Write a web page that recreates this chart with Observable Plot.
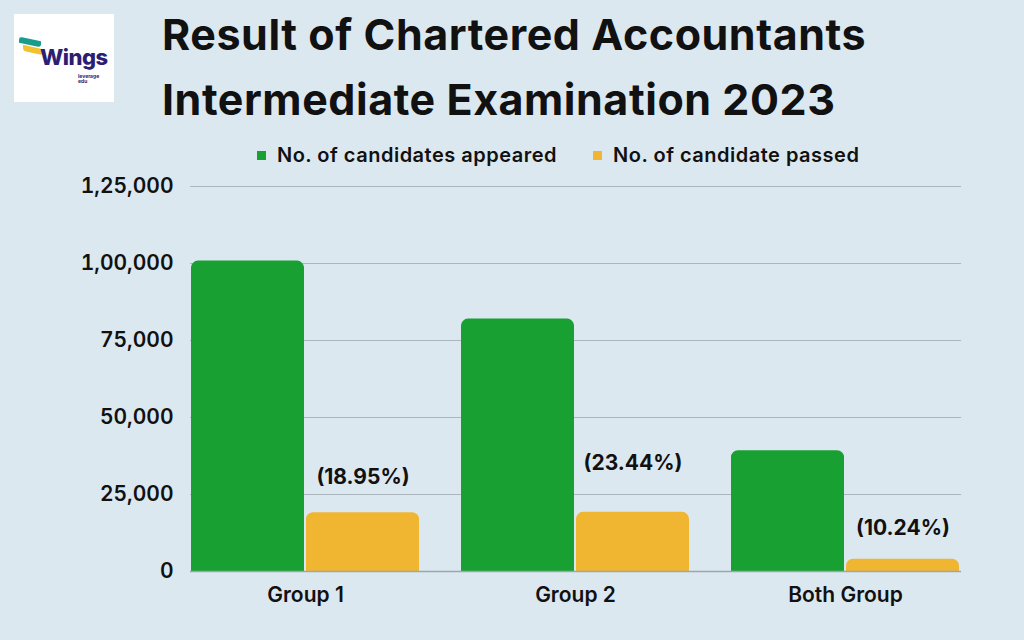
<!DOCTYPE html>
<html>
<head>
<meta charset="utf-8">
<script src="https://cdn.jsdelivr.net/npm/d3@7"></script>
<script src="https://cdn.jsdelivr.net/npm/@observablehq/plot@0.6"></script>
<style>
  html, body { margin: 0; padding: 0; }
  body { width: 1024px; height: 640px; background: #dce8f0; font-family: Inter, Roboto, sans-serif; color: #111; overflow: hidden; position: relative; }
  #header { position: relative; height: 170px; }
  #logo { position: absolute; left: 14px; top: 14px; width: 100px; height: 88px; background: #fff; }
  #logo .sw1 { position: absolute; left: 5px; top: 25px; width: 22px; height: 6px; background: #1a9c8c; border-radius: 3px 0 3px 0; transform: skewY(12deg); }
  #logo .sw2 { position: absolute; left: 9px; top: 33px; width: 20px; height: 6px; background: #f2c12e; border-radius: 0 0 3px 3px; transform: skewY(12deg); }
  #logo .w { position: absolute; left: 26px; top: 30px; font: 800 22px Inter, sans-serif; color: #2d1d73; letter-spacing: -0.5px; }
  #logo .lv { position: absolute; left: 64px; top: 60px; font: 700 5px Inter, sans-serif; color: #2d1d73; line-height: 5px; }
  #title { position: absolute; left: 162px; top: 2px; font-weight: 700; font-size: 43px; line-height: 65px; letter-spacing: 0.55px; color: #111; white-space: nowrap; }
  #legend { position: absolute; left: 257px; top: 143px; display: flex; align-items: center; font-size: 20px; font-weight: 600; letter-spacing: 0.5px; white-space: nowrap; }
  #legend .item { display: flex; align-items: center; margin-right: 36px; }
  #legend .sq { width: 9px; height: 9px; margin-right: 11px; }
</style>
</head>
<body>
<div id="header">
  <div id="logo"><div class="sw1"></div><div class="sw2"></div><div class="w">Wings</div><div class="lv">leverage<br>edu</div></div>
  <div id="title">Result of Chartered Accountants<br>Intermediate Examination 2023</div>
  <div id="legend"></div>
</div>
<div id="chart"></div>
<script>
const groups = ["Group 1", "Group 2", "Both Group"];
const seriesNames = ["No. of candidates appeared", "No. of candidate passed"];
const appeared = [100781, 81956, 39195];
const passed = [19103, 19208, 4014];
const passLabels = ["(18.95%)", "(23.44%)", "(10.24%)"];
const yTicks = [0, 25000, 50000, 75000, 100000, 125000];
const seriesColors = ["#19a032", "#f0b632"];

const rows = [];
groups.forEach((g, i) => {
  rows.push({group: g, series: seriesNames[0], value: appeared[i]});
  rows.push({group: g, series: seriesNames[1], value: passed[i]});
});
const labelRows = groups.map((g, i) => ({group: g, series: seriesNames[1], value: passed[i], label: passLabels[i]}));
const labelDy = [-35, -49, -31];

// legend
const legend = document.getElementById("legend");
seriesNames.forEach((s, i) => {
  const it = document.createElement("div");
  it.className = "item";
  const sq = document.createElement("div");
  sq.className = "sq";
  sq.style.background = seriesColors[i];
  it.appendChild(sq);
  it.appendChild(document.createTextNode(s));
  legend.appendChild(it);
});

const fmt = d => d.toLocaleString("en-IN");
const W = 1024, ML = 189, MR = 64;
const span = W - ML - MR;

const chart = Plot.plot({
  width: W,
  height: 470,
  marginTop: 16,
  marginBottom: 69,
  marginLeft: ML,
  marginRight: MR,
  style: {background: "transparent", fontFamily: "Inter, sans-serif", color: "#111", overflow: "visible"},
  fx: {domain: groups, paddingInner: 0.15, paddingOuter: 0, label: null},
  x: {domain: seriesNames, paddingInner: 0.015, paddingOuter: 0, axis: null},
  y: {domain: [0, 125000], label: null},
  color: {domain: seriesNames, range: seriesColors},
  marks: [
    // full-width grid lines drawn as inward ticks of the left axis
    Plot.axisY(yTicks.slice(1), {tickSize: -span, stroke: "#aab5be", strokeOpacity: 1, strokeWidth: 1, tickFormat: () => "", label: null}),
    Plot.axisY(yTicks, {tickSize: 0, tickPadding: 17, tickFormat: fmt, fontSize: 21, fontWeight: 600, label: null}),
    Plot.axisFx({anchor: "bottom", tickSize: 0, tickPadding: 16, fontSize: 21, fontWeight: 600, label: null}),
    Plot.barY(rows, {fx: "group", x: "series", y: "value", fill: "series", ry1: 7}),
    Plot.axisY([0], {tickSize: -span, stroke: "#9aa6b0", strokeOpacity: 1, strokeWidth: 1.5, tickFormat: () => "", label: null}),
    ...groups.map((g, i) => Plot.text(labelRows.filter(d => d.group === g), {fx: "group", x: "series", y: "value", text: "label", dy: labelDy[i], fontSize: 21, fontWeight: 650, fill: "#111"}))
  ]
});
document.getElementById("chart").appendChild(chart);
</script>
</body>
</html>
